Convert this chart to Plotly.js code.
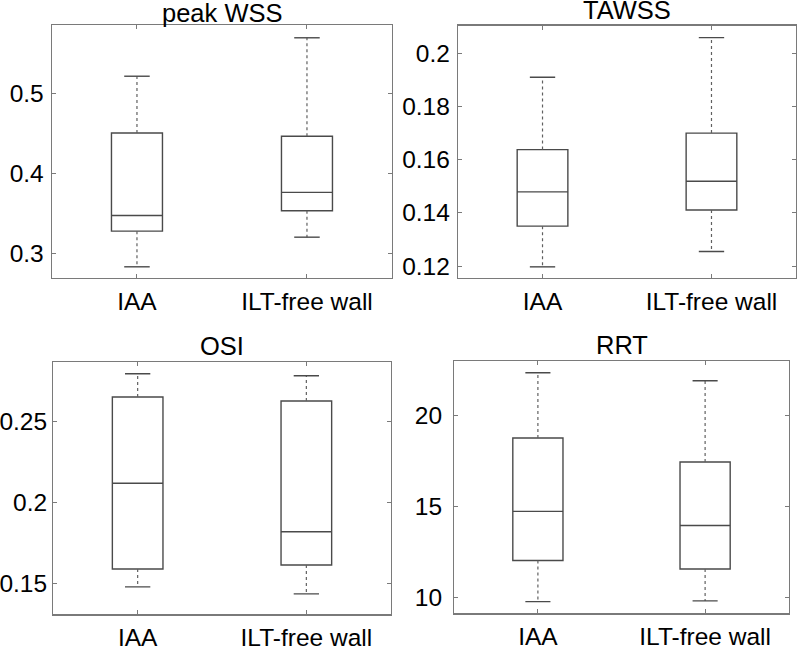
<!DOCTYPE html>
<html>
<head>
<meta charset="utf-8">
<script src="https://cdn.plot.ly/plotly-3.0.1.min.js"></script>
<style>html,body{margin:0;padding:0;background:#fff;}#chart{width:797px;height:647px;}</style>
</head>
<body>
<div id="chart"></div>
<script>
// Data
const groups = ["IAA", "ILT-free wall"];
const groupPos = [1, 2];
const panelTitles = ["peak WSS", "TAWSS", "OSI", "RRT"];

const lowerWhisker = [[0.283, 0.320], [0.1197, 0.1255], [0.1476, 0.1433], [9.78, 9.82]];
const q1Values     = [[0.3275, 0.353], [0.135, 0.1411], [0.1587, 0.1612], [12.04, 11.57]];
const medianValues = [[0.347, 0.376], [0.1479, 0.1519], [0.2118, 0.1818], [14.73, 13.96]];
const q3Values     = [[0.450, 0.446], [0.1638, 0.170], [0.2653, 0.2628], [18.76, 17.44]];
const upperWhisker = [[0.521, 0.569], [0.191, 0.2059], [0.2797, 0.2785], [22.34, 21.90]];

const yTickVals = [[0.3, 0.4, 0.5], [0.12, 0.14, 0.16, 0.18, 0.2], [0.15, 0.2, 0.25], [10, 15, 20]];
const yTickText = [["0.3", "0.4", "0.5"], ["0.12", "0.14", "0.16", "0.18", "0.2"], ["0.15", "0.2", "0.25"], ["10", "15", "20"]];
const yRanges = [[0.269, 0.585], [0.1155, 0.2104], [0.1306, 0.2868], [9.14, 22.98]];

// layout geometry
const xDomains = [[0.0652, 0.4918], [0.5747, 0.9987], [0.0669, 0.4902], [0.5700, 0.9896]];
const yDomains = [[0.5703, 0.9614], [0.5703, 0.9603], [0.0505, 0.4400], [0.0521, 0.4420]];
const titleShift = [-4, 0, 0, 0];
const yLabelStandoff = [2, 2, 0, 6];

const boxLine = "#4a4a4a";
const frameColor = "#7a7a7a";
const fontFam = "Liberation Sans, Arial, Helvetica, sans-serif";
const tickSize = 24.5;
const titleSize = 25.5;
const capHalf = 0.075;

const traces = [];
const layout = {
  width: 797, height: 647,
  margin: {l: 0, r: 0, t: 0, b: 0},
  paper_bgcolor: "#fff", plot_bgcolor: "#fff",
  showlegend: false,
  font: {family: fontFam, size: tickSize, color: "#000"},
  annotations: []
};

for (let p = 0; p < 4; p++) {
  const sx = p === 0 ? "" : String(p + 1);
  const xa = "x" + sx, ya = "y" + sx;
  for (let g = 0; g < groups.length; g++) {
    const xp = groupPos[g];
    // box body (no whiskers; whiskers drawn dotted below)
    traces.push({
      type: "box", xaxis: xa, yaxis: ya,
      x: [xp],
      q1: [q1Values[p][g]], median: [medianValues[p][g]], q3: [q3Values[p][g]],
      lowerfence: [q1Values[p][g]], upperfence: [q3Values[p][g]],
      width: 0.3, whiskerwidth: 0,
      fillcolor: "rgba(0,0,0,0)",
      line: {color: boxLine, width: 1.4},
      hoverinfo: "skip", boxpoints: false
    });
    // dotted whiskers
    traces.push({
      type: "scatter", mode: "lines", xaxis: xa, yaxis: ya,
      x: [xp, xp], y: [q3Values[p][g], upperWhisker[p][g]],
      line: {color: "#606060", width: 1.2, dash: "dot"}, hoverinfo: "skip"
    });
    traces.push({
      type: "scatter", mode: "lines", xaxis: xa, yaxis: ya,
      x: [xp, xp], y: [q1Values[p][g], lowerWhisker[p][g]],
      line: {color: "#606060", width: 1.2, dash: "dot"}, hoverinfo: "skip"
    });
    // caps
    traces.push({
      type: "scatter", mode: "lines", xaxis: xa, yaxis: ya,
      x: [xp - capHalf, xp + capHalf], y: [upperWhisker[p][g], upperWhisker[p][g]],
      line: {color: boxLine, width: 1.4}, hoverinfo: "skip"
    });
    traces.push({
      type: "scatter", mode: "lines", xaxis: xa, yaxis: ya,
      x: [xp - capHalf, xp + capHalf], y: [lowerWhisker[p][g], lowerWhisker[p][g]],
      line: {color: boxLine, width: 1.4}, hoverinfo: "skip"
    });
  }
  const axCommon = {
    showline: true, mirror: "ticks", linecolor: frameColor, linewidth: 1.3,
    ticks: "inside", ticklen: 4, tickcolor: frameColor, tickwidth: 1,
    showgrid: false, zeroline: false, fixedrange: true,
    tickfont: {family: fontFam, size: tickSize, color: "#000"}
  };
  layout["xaxis" + sx] = Object.assign({}, axCommon, {
    domain: xDomains[p], anchor: ya, range: [0.5, 2.5],
    tickmode: "array", tickvals: groupPos, ticktext: groups,
    ticklabelstandoff: 1
  });
  layout["yaxis" + sx] = Object.assign({}, axCommon, {
    domain: yDomains[p], anchor: xa, range: yRanges[p],
    tickmode: "array", tickvals: yTickVals[p], ticktext: yTickText[p],
    ticklabelstandoff: yLabelStandoff[p]
  });
  layout.annotations.push({
    text: panelTitles[p], showarrow: false,
    xref: "paper", yref: "paper",
    x: (xDomains[p][0] + xDomains[p][1]) / 2, y: yDomains[p][1],
    xanchor: "center", yanchor: "bottom", yshift: titleShift[p],
    font: {family: fontFam, size: titleSize, color: "#000"}
  });
}

Plotly.newPlot("chart", traces, layout, {staticPlot: true, displayModeBar: false});
</script>
</body>
</html>
